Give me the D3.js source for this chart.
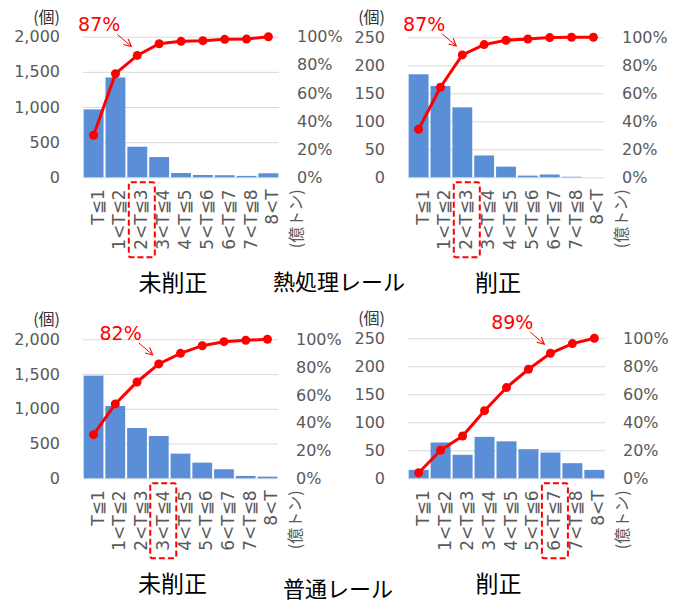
<!DOCTYPE html>
<html>
<head>
<meta charset="utf-8">
<script src="https://cdn.jsdelivr.net/npm/d3@7"></script>
<style>
  body { margin: 0; background: #fff; }
  svg { display: block; }
</style>
</head>
<body>
<svg id="chart" width="680" height="604"></svg>
<script>
// categories (億トン)
var categories = ["T≦1", "1<T≦2", "2<T≦3", "3<T≦4", "4<T≦5", "5<T≦6", "6<T≦7", "7<T≦8", "8<T"];
var unitLabel = "(億トン)";
var countLabel = "(個)";

// 熱処理レール
var heatUncut = [966, 1420, 435, 288, 61, 33, 30, 20, 57];
var heatUncutCum = [29.9, 73.7, 86.7, 95.0, 96.7, 97.2, 98.1, 98.3, 100];
var heatCut = [184, 163, 125, 39, 19, 3, 5, 1, 0];
var heatCutCum = [34.3, 64.3, 87.4, 94.8, 97.9, 98.8, 99.8, 100, 100];

// 普通レール
var normUncut = [1477, 1041, 724, 609, 355, 225, 130, 34, 24];
var normUncutCum = [31.4, 53.5, 69.3, 82.3, 89.9, 95.4, 98.3, 99.3, 100];
var normCut = [15, 64, 42, 74, 66, 52, 46, 27, 15];
var normCutCum = [4.0, 20.0, 30.2, 48.3, 64.8, 77.9, 89.3, 96.2, 100];

var bigTicks = [0, 500, 1000, 1500, 2000];
var smallTicks = [0, 50, 100, 150, 200, 250];
var pctTicks = [0, 20, 40, 60, 80, 100];

var panels = [
  {name: "未削正", counts: heatUncut, cum: heatUncutCum, ticks: bigTicks, mark: 2, note: "87%", x: 83, y: 36.7, w: 196, h: 140.6},
  {name: "削正", counts: heatCut, cum: heatCutCum, ticks: smallTicks, mark: 2, note: "87%", x: 408, y: 37.3, w: 196, h: 140},
  {name: "未削正", counts: normUncut, cum: normUncutCum, ticks: bigTicks, mark: 3, note: "82%", x: 83, y: 339.3, w: 195, h: 139},
  {name: "削正", counts: normCut, cum: normCutCum, ticks: smallTicks, mark: 6, note: "89%", x: 408, y: 338.3, w: 197, h: 140}
];
var groupNames = [{text: "熱処理レール", x: 339, y: 290}, {text: "普通レール", x: 338, y: 597}];

var svg = d3.select("#chart");
var numFont = "'DejaVu Sans', Verdana, sans-serif";
var jpFont = "'Noto Sans CJK JP', 'Noto Sans', sans-serif";

svg.append("defs").append("marker")
  .attr("id", "arr")
  .attr("viewBox", "0 0 10 10")
  .attr("refX", 9).attr("refY", 5)
  .attr("markerWidth", 9).attr("markerHeight", 9)
  .attr("markerUnits", "userSpaceOnUse")
  .attr("orient", "auto")
  .append("path")
  .attr("d", "M1,1 L9,5 L1,9")
  .attr("fill", "none")
  .attr("stroke", "#ff0000")
  .attr("stroke-width", 1.2);

panels.forEach(function(p) {
  var g = svg.append("g").attr("transform", "translate(" + p.x + "," + p.y + ")");

  var x = d3.scaleBand().domain(categories).range([0, p.w]).paddingInner(0.09).paddingOuter(0.03);
  var y = d3.scaleLinear().domain([0, p.ticks[p.ticks.length - 1]]).range([p.h, 0]);
  var y2 = d3.scaleLinear().domain([0, 100]).range([p.h, 0]);

  // gridlines + left axis
  var left = g.append("g")
    .call(d3.axisLeft(y).tickValues(p.ticks).tickSize(-p.w).tickPadding(23).tickFormat(d3.format(",")));
  left.select(".domain").remove();
  left.selectAll(".tick line").attr("stroke", "#d9d9d9").attr("stroke-width", 1);
  left.selectAll(".tick text").attr("fill", "#595959").style("font", "16px " + numFont);

  var right = g.append("g").attr("transform", "translate(" + p.w + ",0)")
    .call(d3.axisRight(y2).tickValues(pctTicks).tickSize(0).tickPadding(18).tickFormat(function(d) { return d + "%"; }));
  right.select(".domain").remove();
  right.selectAll(".tick text").attr("fill", "#595959").style("font", "16px " + numFont);

  g.append("text")
    .attr("x", -23).attr("y", -14)
    .attr("text-anchor", "end")
    .attr("fill", "#333")
    .style("font", "16px " + jpFont)
    .text(countLabel);

  // bars
  g.selectAll("rect.bar").data(p.counts).enter().append("rect")
    .attr("class", "bar")
    .attr("x", function(d, i) { return x(categories[i]); })
    .attr("width", x.bandwidth())
    .attr("y", function(d) { return y(d); })
    .attr("height", function(d) { return p.h - y(d); })
    .attr("fill", "#5a8fd7");

  // cumulative line
  var cx = function(i) { return x(categories[i]) + x.bandwidth() / 2; };
  var line = d3.line().x(function(d, i) { return cx(i); }).y(function(d) { return y2(d); });
  g.append("path").datum(p.cum)
    .attr("d", line)
    .attr("fill", "none")
    .attr("stroke", "#ff0000")
    .attr("stroke-width", 3);
  g.selectAll("circle.pt").data(p.cum).enter().append("circle")
    .attr("class", "pt")
    .attr("cx", function(d, i) { return cx(i); })
    .attr("cy", function(d) { return y2(d); })
    .attr("r", 4.5)
    .attr("fill", "#ff0000");

  // category labels
  categories.concat([unitLabel]).forEach(function(c, i) {
    var lx = i < categories.length ? cx(i) + 10 : p.w + 23;
    g.append("text")
      .attr("transform", "translate(" + lx + "," + (p.h + 12) + ") rotate(-90)")
      .attr("text-anchor", "end")
      .attr("fill", "#595959")
      .style("font", (i < categories.length ? "17px " + numFont : "16px " + jpFont))
      .text(c);
  });

  // dashed highlight box
  g.append("rect")
    .attr("x", cx(p.mark) - 8.5).attr("y", p.h + 5)
    .attr("width", 26).attr("height", 75)
    .attr("rx", 2)
    .attr("fill", "none")
    .attr("stroke", "#ff0000")
    .attr("stroke-width", 2)
    .attr("stroke-dasharray", "6,3");

  // annotation
  var px = cx(p.mark), py = y2(p.cum[p.mark]);
  g.append("text")
    .attr("x", px - 17).attr("y", py - 24)
    .attr("text-anchor", "end")
    .attr("fill", "#ff0000")
    .style("font", "19px " + numFont)
    .text(p.note);
  g.append("line")
    .attr("x1", px - 20).attr("y1", py - 21)
    .attr("x2", px - 6).attr("y2", py - 9)
    .attr("stroke", "#ff0000")
    .attr("stroke-width", 1)
    .attr("marker-end", "url(#arr)");

  // panel name
  g.append("text")
    .attr("x", p.w / 2 - 8).attr("y", p.h + 114)
    .attr("text-anchor", "middle")
    .attr("fill", "#000")
    .style("font", "23px " + jpFont)
    .text(p.name);
});

groupNames.forEach(function(t) {
  svg.append("text")
    .attr("x", t.x).attr("y", t.y)
    .attr("text-anchor", "middle")
    .attr("fill", "#000")
    .style("font", "22px " + jpFont)
    .text(t.text);
});
</script>
</body>
</html>
